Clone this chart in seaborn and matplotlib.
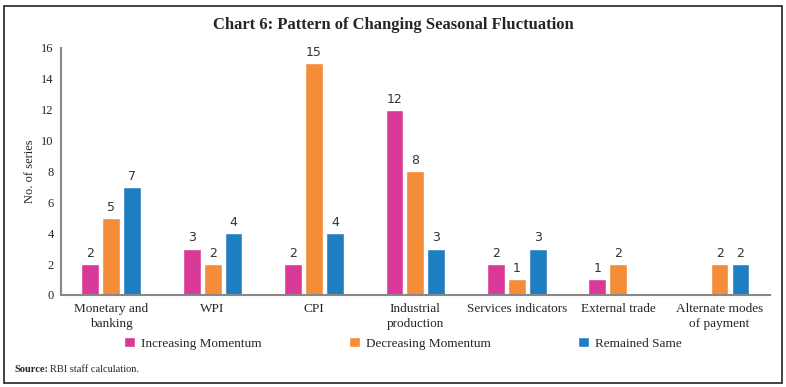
import matplotlib.pyplot as plt
import matplotlib.patches as mpatches
import seaborn as sns
import pandas as pd
import numpy as np

categories = ['Monetary and\nbanking', 'WPI', 'CPI', 'Industrial\nproduction',
              'Services indicators', 'External trade', 'Alternate modes\nof payment']
increasing = [2, 3, 2, 12, 2, 1, np.nan]
decreasing = [5, 2, 15, 8, 1, 2, 2]
remained = [7, 4, 4, 3, 3, np.nan, 2]
series = ['Increasing Momentum', 'Decreasing Momentum', 'Remained Same']
colors = ['#D93A97', '#F58C38', '#1F7DC1']

df = pd.DataFrame({
    'Category': categories * 3,
    'Series': [series[0]] * 7 + [series[1]] * 7 + [series[2]] * 7,
    'Value': increasing + decreasing + remained,
})

sns.set_style('white')
plt.rcParams['font.family'] = ['Liberation Serif', 'DejaVu Serif']

fig = plt.figure(figsize=(7.86, 3.87), dpi=100)
ax = fig.add_axes([0.077, 0.238, 0.903, 0.638])

sns.barplot(data=df, x='Category', y='Value', hue='Series', order=categories,
            hue_order=series, palette=colors, width=0.62, gap=0.15,
            saturation=1, ax=ax, legend=True)

for cont in ax.containers:
    ax.bar_label(cont, fmt='%g', padding=3, fontsize=9, family='DejaVu Sans',
                 color='#333333')

ax.set_ylim(0, 16)
ax.set_yticks(range(0, 17, 2))
ax.set_xlim(-0.5, len(categories) - 0.5)
ax.set_xticks(np.arange(-0.5, len(categories), 1))
ax.set_xticklabels([])
ax.set_xticks(range(len(categories)), minor=True)
ax.set_xticklabels(categories, minor=True, fontsize=9.5, linespacing=1.3)
ax.tick_params(axis='x', which='minor', length=0, pad=6)
ax.tick_params(axis='x', which='major', length=3, direction='out', color='#666666', width=1.2)
ax.tick_params(axis='y', length=3, direction='out', color='#666666', width=1.2,
               labelsize=9, pad=2)
ax.set_xlabel('')
ax.set_ylabel('No. of series', fontsize=9)
for s in ['top', 'right']:
    ax.spines[s].set_visible(False)
for s in ['left', 'bottom']:
    ax.spines[s].set_color('#888888')
    ax.spines[s].set_linewidth(1.5)

handles, labels = ax.get_legend_handles_labels()
ax.legend_.remove()
fig.legend(handles, labels, loc='center', bbox_to_anchor=(0.513, 0.112), ncol=3,
           frameon=False, fontsize=9.5, handlelength=0.8, handleheight=0.8,
           columnspacing=6.6, handletextpad=0.5)

fig.text(0.5, 0.935, 'Chart 6: Pattern of Changing Seasonal Fluctuation',
         ha='center', va='center', fontsize=12, fontweight='bold')
fig.text(0.018, 0.046, 'Source:', fontsize=7.5, fontweight='bold', va='center')
fig.text(0.063, 0.046, 'RBI staff calculation.', fontsize=7.5, va='center')

fig.patches.append(mpatches.Rectangle((0.005, 0.01), 0.99, 0.975, transform=fig.transFigure,
                                      fill=False, edgecolor='#222222', linewidth=1.2))

fig.savefig('out.png', dpi=100)
